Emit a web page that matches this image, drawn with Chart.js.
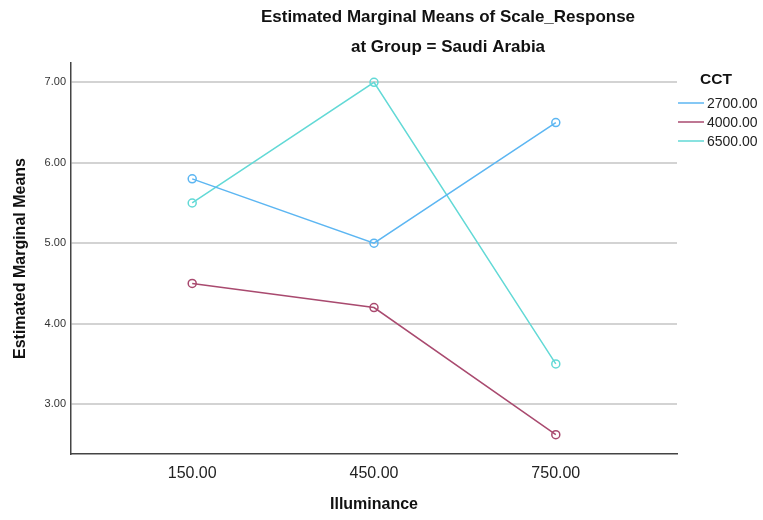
<!DOCTYPE html>
<html>
<head>
<meta charset="utf-8">
<script src="https://cdn.jsdelivr.net/npm/chart.js@4.4.0/dist/chart.umd.min.js"></script>
<style>
  html, body { margin: 0; padding: 0; background: #fff; }
  #wrap { width: 763px; height: 520px; }
</style>
</head>
<body>
<div id="wrap"><canvas id="emm-chart" width="763" height="520"></canvas></div>
<script>
// data
const illuminance = [150, 450, 750];
const cctLabels = ["2700.00", "4000.00", "6500.00"];
const cct2700 = [5.8, 5.0, 6.5];
const cct4000 = [4.5, 4.2, 2.62];
const cct6500 = [5.5, 7.0, 3.5];
const yTicks = [3, 4, 5, 6, 7];
const titleLines = ["Estimated Marginal Means of Scale_Response", "at Group = Saudi Arabia"];

const colors = ["#5cb6f2", "#a94a6f", "#62d9d6"];
const FONT = "'Liberation Sans', Arial, sans-serif";

function makeSet(label, data, color) {
  return {
    label: label,
    data: illuminance.map((x, i) => ({ x: x, y: data[i] })),
    borderColor: color,
    backgroundColor: "rgba(255,255,255,0)",
    borderWidth: 1.5,
    pointRadius: 4,
    pointBorderWidth: 1.5,
    pointBackgroundColor: "rgba(255,255,255,0)",
    pointBorderColor: color,
    tension: 0
  };
}

// titles + legend drawn by hand, SPSS style
const extraText = {
  id: "extraText",
  afterDraw(chart) {
    const ctx = chart.ctx;
    const area = chart.chartArea;
    ctx.save();
    ctx.fillStyle = "#111";
    ctx.textAlign = "center";
    ctx.textBaseline = "middle";
    ctx.font = "bold 17px " + FONT;
    ctx.fillText(titleLines[0], 448, 17);
    ctx.fillText(titleLines[1], 448, 47);

    // legend
    let lx = area.right + 1;
    ctx.textAlign = "left";
    ctx.font = "bold 15.5px " + FONT;
    ctx.fillText("CCT", lx + 22, 80);
    ctx.font = "14px " + FONT;
    chart.data.datasets.forEach((ds, i) => {
      const y = 103 + i * 19;
      ctx.strokeStyle = ds.borderColor;
      ctx.lineWidth = 1.5;
      ctx.beginPath();
      ctx.moveTo(lx, y);
      ctx.lineTo(lx + 26, y);
      ctx.stroke();
      ctx.fillStyle = "#222";
      ctx.fillText(ds.label, lx + 29, y + 1);
    });
    ctx.restore();
  }
};

const chart = new Chart(document.getElementById("emm-chart").getContext("2d"), {
  type: "line",
  data: {
    datasets: [
      makeSet(cctLabels[0], cct2700, colors[0]),
      makeSet(cctLabels[1], cct4000, colors[1]),
      makeSet(cctLabels[2], cct6500, colors[2])
    ]
  },
  options: {
    responsive: false,
    animation: false,
    layout: { padding: { top: 63, right: 86, left: 11, bottom: 0 } },
    plugins: {
      legend: { display: false },
      title: { display: false },
      tooltip: { enabled: false }
    },
    scales: {
      x: {
        type: "linear",
        min: -50,
        max: 950,
        afterBuildTicks: (s) => { s.ticks = illuminance.map(v => ({ value: v })); },
        afterFit: (s) => { s.height = 66; },
        grid: { display: false, drawTicks: false },
        border: { display: true, color: "#444", width: 1.5 },
        ticks: {
          padding: 10,
          color: "#222",
          font: { family: FONT, size: 16 },
          callback: (v) => Number(v).toFixed(2)
        },
        title: {
          display: true,
          text: "Illuminance",
          color: "#111",
          font: { family: FONT, size: 16, weight: "bold" },
          padding: { top: 4, bottom: 6 }
        }
      },
      y: {
        min: 2.38,
        max: 7.24,
        afterBuildTicks: (s) => { s.ticks = yTicks.map(v => ({ value: v })); },
        afterFit: (s) => { s.width = 60; },
        grid: { color: "#d3d3d3", lineWidth: 2, drawTicks: false },
        border: { display: true, color: "#444", width: 1.5 },
        ticks: {
          padding: 5,
          color: "#333",
          font: { family: FONT, size: 11 },
          callback: (v) => Number(v).toFixed(2)
        },
        title: {
          display: true,
          text: "Estimated Marginal Means",
          color: "#111",
          font: { family: FONT, size: 16, weight: "bold" },
          padding: { top: 0, bottom: 0 }
        }
      }
    }
  },
  plugins: [extraText]
});
</script>
</body>
</html>
